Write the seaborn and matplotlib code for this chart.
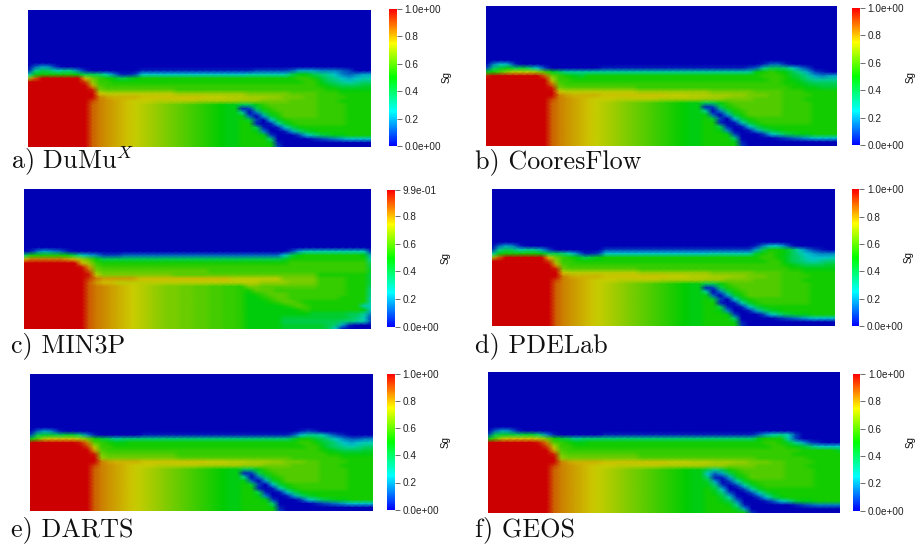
import re
import numpy as np
import matplotlib
matplotlib.use("Agg")
import matplotlib.pyplot as plt
from matplotlib.colors import LinearSegmentedColormap, Normalize
from matplotlib.cm import ScalarMappable
import seaborn as sns

# Saturation fields: one string per mesh row, run-length coded.
# Lower-case letter = value (a=0.00, b=0.04, ... z=1.00); upper-case = that value + 0.02;
# optional number = repeat count.
EMPTY_ROWS = 15
LEFT = "z9wvUuTtSsRrQqPpOoNnMm"
LEFT_C = "z9wvUuTtSsRrQq2P2p2O2o2N"
BAND_A = "z10ts10r10q6p4o3n5"
BAND_B = "z10vuT4t9S3s3R3r2q3p2o4n4"
BAND_C = "z9xvUuTtS3s6R6r3q4p4o3n5"

lower_common = [
    LEFT + "mkkmop7o4n4", LEFT + "mbcknop6o4n4", LEFT + "miaeknop5o4n4",
    LEFT + "mmdaflnp5o4n4", LEFT + "mnlcaglno8n4", LEFT + "mnnbabhlno7n4",
    LEFT + "mn2kbabgkmn10", LEFT + "mn2meaabfjlmn8", LEFT + "mn3mcaaacgiklmmn4",
    LEFT + "mn4ja5bcdefg4", LEFT + "mn4mba", LEFT + "mn5ca",
]
dumux_rows = [
    "adfeba", "bikjhiieba7b16c5dfffeeedca", "hmn5mkkjhebbcg15h6kmmkjigedeff",
    "rwz6tqonmklmn22oonljigfghh", "z8xroon27oomkjihijj", "z9upo30nmlk3l2",
    "z9yqp10o21n2m5", BAND_A, BAND_B, BAND_C,
] + lower_common
cooresflow_rows = [
    "aegfba33bddba", "cjlmkljgca7b20cdikkjheca", "mnprs3rpmki26mnonmkifcba",
    "yz7wqonmln24o3nlkifeff", "z9soon27o2nmljii4", "z9vpo30n2mlk4",
    "z9yqp10o21n2m2l3", BAND_A, BAND_B, BAND_C,
] + lower_common
min3p_rows = [
    "a", "abefedba30cfh9b", "jn5mkhfec3d22gkmn8mf", "tv5utrpmk25ln11h",
    "z8tron26o11j", "z8yupo37k", "z9wqp15o22l", "z9ysq10p20n7k",
    "z9xvu5t13s7q5o4n3k", "z9wut2s20r4q4o4n3k",
    LEFT_C + "qqpp7o4n3j", LEFT_C + "npppo10n3i", LEFT_C + "mnopppo8n3i",
    LEFT_C + "mmnoppoo6n4h", LEFT_C + "m3noppon9h", LEFT_C + "m5nopon7h",
    LEFT_C + "m7nonn6mg", LEFT_C + "m9l5k2ie", LEFT_C + "m5l9kjhc",
    LEFT_C + "m5k8jjihc", LEFT_C + "m5l6kjfba", LEFT_C + "m5l6kga",
]
pdelab_rows = [
    "adfeba32beggeba", "bikjhiifca7c21fknnmkhecba", "hmn5mkkjhebbcg15h6lnonmkigfeee",
    "rwz6tqonmklmn22oonmkjhgggh", "z8xroon27oomkjihijj", "z9upo30nmlk3l2",
    "z9yqp10o21n2m5", BAND_A, BAND_B, BAND_C,
] + lower_common
darts_rows = [
    "adfeba33bcba", "ckllklljeba6b21dgiihecba", "mpst4sqnlkij24lnnlkigeddee",
    "z7yvponm2n24o2nlkigfghh", "z8xsoon27oomkjihijj", "z9upo30nmlk3l2",
    "z9yqp10o21n2m5", "z10rq10p16o7n5", BAND_B, BAND_C,
] + lower_common
geos_rows = [
    "adfeba", "ckllklljeba6b21dfhihca", "mpst4sqnlkij23jmn3hca",
    "z7yvponm2n24o2nlifcba", "z8xsoon27oonmljhgg", "z9upo32n5l3",
    "z9yqp10o21n7", "z10rq10p16o7n5", BAND_B, BAND_C,
    LEFT + "mkiknop6o4n4", LEFT + "mgdfknop5o4n4", LEFT + "mjbbflnp5o4n4",
    LEFT + "mlfachlno8n4", LEFT + "mmjcachlno7n4", LEFT + "mnlgaachln11",
    LEFT + "mnmjdaacgkmn9", LEFT + "mnnlhbaacgkmn8", LEFT + "mnnmkeaaabdgilmmn4",
    LEFT + "mn3miba6bcde4", LEFT + "mn4lfa", LEFT + "mn6ca",
]

captions = ["a) DuMu$^{X}$", "b) CooresFlow", "c) MIN3P", "d) PDELab", "e) DARTS", "f) GEOS"]
fields = [dumux_rows, cooresflow_rows, min3p_rows, pdelab_rows, darts_rows, geos_rows]
vmaxes = [1.0, 1.0, 0.99, 1.0, 1.0, 1.0]
top_labels = ["1.0e+00", "1.0e+00", "9.9e-01", "1.0e+00", "1.0e+00", "1.0e+00"]
inner_ticks = [0.2, 0.4, 0.6, 0.8]
N_COLS = 49

# pixel layout: left, right, top, bottom
boxes = [(28.3, 370.7, 10, 146.7), (486.3, 837, 6, 146), (24, 371.3, 189.3, 329.3),
         (491.7, 834.7, 189, 326), (30.3, 372.7, 374.3, 511.3), (488, 839.7, 372.3, 513)]
cbars = [(389, 396.7, 9, 146), (852.3, 859.7, 8, 145.3), (387.3, 394.7, 190, 326.7),
         (851.7, 859, 189.3, 326), (387.3, 394.7, 373.7, 509.7), (852.7, 860.3, 374, 510.7)]
sg_pos = [(447, 77), (911, 77), (446, 258), (909, 257), (446, 442), (911, 442)]
cap_pos = [(11, 168), (475, 168), (11, 352), (475, 352), (11, 536), (475, 536)]

W, H = 916, 548


def decode(rows):
    out = [[0.0] * N_COLS for _ in range(EMPTY_ROWS)]
    for row in rows:
        vals = []
        for ch, n in re.findall(r"([a-zA-Z])(\d*)", row):
            v = (ord(ch) - 97) / 25.0 if ch.islower() else (ord(ch) - 65) / 25.0 + 0.02
            vals += [v] * (int(n) if n else 1)
        vals = vals[:N_COLS]
        vals += [vals[-1]] * (N_COLS - len(vals))
        out.append(vals)
    return np.array(out)


def pixel_axes(fig, box):
    l, r, t, b = box
    return fig.add_axes([l / W, 1 - b / H, (r - l) / W, (b - t) / H])


sns.set_theme(style="white")
plt.rcParams["mathtext.fontset"] = "cm"
nodes = [(0, 0, 1), (0, 1, 1), (0, 1, 0), (1, 1, 0), (1, 0, 0)]
bar_cmap = LinearSegmentedColormap.from_list("rainbow_bar", nodes)
field_cmap = LinearSegmentedColormap.from_list(
    "rainbow_field", [(0, 0, 0.71), (0, 0.8, 0.8), (0, 0.8, 0), (0.8, 0.8, 0), (0.8, 0, 0)])

fig = plt.figure(figsize=(W / 100, H / 100), dpi=100, facecolor="white")
for i, rows in enumerate(fields):
    ax = pixel_axes(fig, boxes[i])
    grid = decode(rows)
    sns.heatmap(grid, ax=ax, cmap=field_cmap, vmin=0, vmax=vmaxes[i], cbar=False,
                xticklabels=False, yticklabels=False, shading="gouraud")
    ax.set_xlim(0, grid.shape[1] - 1)
    ax.set_ylim(grid.shape[0] - 1, 0)

    cax = pixel_axes(fig, cbars[i])
    sm = ScalarMappable(Normalize(0, vmaxes[i]), bar_cmap)
    cb = fig.colorbar(sm, cax=cax)
    cb.set_ticks([0.0] + inner_ticks + [vmaxes[i]])
    cb.set_ticklabels(["0.0e+00"] + [f"{t:.1f}" for t in inner_ticks] + [top_labels[i]])
    cb.outline.set_visible(False)
    cax.tick_params(length=3.6, width=0.6, color="#555555", pad=2, labelsize=7.2,
                    labelcolor="#222222")
    for lab in cax.get_yticklabels():
        lab.set_family("Liberation Sans")

    x, y = sg_pos[i]
    fig.text(x / W, 1 - y / H, "Sg", rotation=90, ha="center", va="center",
             fontsize=7, family="Liberation Sans", color="#111111")
    x, y = cap_pos[i]
    fig.text(x / W, 1 - y / H, captions[i], ha="left", va="baseline", fontsize=18.8,
             family="cmr10", color="#111111")

fig.savefig("out.png", dpi=100)
